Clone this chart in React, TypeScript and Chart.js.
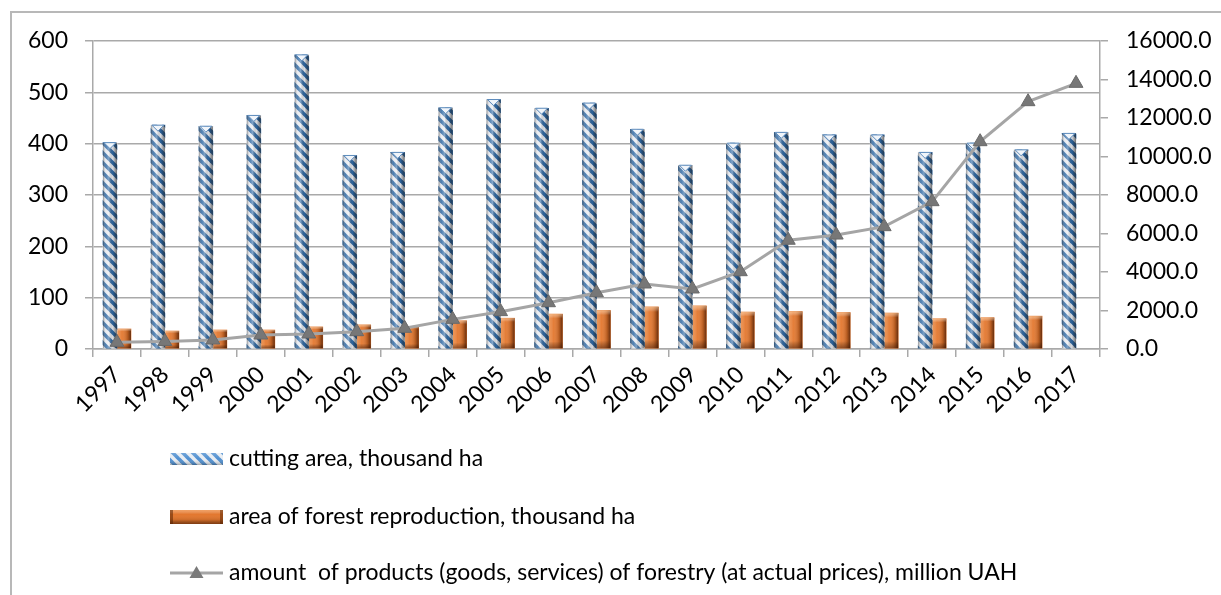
import React, { useEffect, useRef } from "react";
import { Chart, registerables } from "chart.js";

Chart.register(...registerables);

const years = ["1997", "1998", "1999", "2000", "2001", "2002", "2003", "2004", "2005", "2006", "2007", "2008", "2009", "2010", "2011", "2012", "2013", "2014", "2015", "2016", "2017"];
const cuttingArea = [402, 436, 434, 455, 573, 377, 383, 470, 486, 469, 479, 428, 358, 401, 422, 417, 417, 383, 401, 388, 420];
const reproductionArea = [39, 35, 37, 37, 43, 47, 44, 55, 60, 68, 75, 82, 84, 72, 73, 71, 70, 59, 61, 64, null];
const forestryProducts = [348, 390, 467, 727, 780, 900, 1075, 1540, 1940, 2405, 2925, 3377, 3117, 4016, 5650, 5920, 6354, 7653, 10770, 12848, 13800];

const leftTicks = { min: 0, max: 600, step: 100 };
const rightTicks = { min: 0, max: 16000, step: 2000 };

const legendLabels = [
  "cutting area, thousand ha",
  "area of forest reproduction, thousand ha",
  "amount  of products (goods, services) of forestry (at actual prices), million UAH",
];

const FONT = "Lato, 'Open Sans', sans-serif";
const GRID = "#a9a9a9";

function makeStripePattern(ctx: CanvasRenderingContext2D, blue: string, light: string, lw: number) {
  const s = 10;
  const c = document.createElement("canvas");
  c.width = s;
  c.height = s;
  const g = c.getContext("2d")!;
  g.fillStyle = light;
  g.fillRect(0, 0, s, s);
  g.strokeStyle = blue;
  g.lineWidth = lw;
  for (let k = -1; k <= 1; k++) {
    g.beginPath();
    g.moveTo(0 - 2, k * s - 2);
    g.lineTo(s + 2, k * s + s + 2);
    g.stroke();
  }
  return ctx.createPattern(c, "repeat")!;
}

function cylinderOverlay(ctx: CanvasRenderingContext2D, x0: number, x1: number, y0: number, y1: number) {
  const gr = ctx.createLinearGradient(x0, 0, x1, 0);
  gr.addColorStop(0, "rgba(60,60,60,0.55)");
  gr.addColorStop(0.2, "rgba(255,255,255,0.15)");
  gr.addColorStop(0.42, "rgba(255,255,255,0.4)");
  gr.addColorStop(0.7, "rgba(0,0,0,0.05)");
  gr.addColorStop(1, "rgba(30,30,30,0.6)");
  ctx.fillStyle = gr;
  ctx.fillRect(x0, y0, x1 - x0, y1 - y0);
}

function orangeOverlay(ctx: CanvasRenderingContext2D, x0: number, x1: number, y0: number, y1: number) {
  const gr = ctx.createLinearGradient(x0, 0, x1, 0);
  gr.addColorStop(0, "rgba(255,190,130,0.4)");
  gr.addColorStop(0.35, "rgba(255,255,255,0.05)");
  gr.addColorStop(0.75, "rgba(60,20,0,0.25)");
  gr.addColorStop(1, "rgba(50,15,0,0.7)");
  ctx.fillStyle = gr;
  ctx.fillRect(x0, y0, x1 - x0, y1 - y0);
  const gv = ctx.createLinearGradient(0, y0, 0, y1);
  gv.addColorStop(0, "rgba(255,215,170,0.55)");
  gv.addColorStop(0.12, "rgba(255,255,255,0)");
  gv.addColorStop(0.8, "rgba(0,0,0,0)");
  gv.addColorStop(1, "rgba(40,10,0,0.45)");
  ctx.fillStyle = gv;
  ctx.fillRect(x0, y0, x1 - x0, y1 - y0);
}

export default function App() {
  const ref = useRef<HTMLCanvasElement>(null);

  useEffect(() => {
    const canvas = ref.current!;
    const ctx = canvas.getContext("2d")!;
    const stripe = makeStripePattern(ctx, "#2f68a3", "#e6e9ee", 3.6);

    const barStyle = {
      id: "barStyle",
      beforeDraw(chart: any) {
        const c = chart.ctx;
        c.save();
        c.fillStyle = "#ffffff";
        c.fillRect(0, 0, chart.width, chart.height);
        c.strokeStyle = "#b8b8b8";
        c.lineWidth = 2;
        c.beginPath();
        c.moveTo(11, chart.height + 2);
        c.lineTo(11, 12);
        c.lineTo(chart.width + 2, 12);
        c.stroke();
        c.restore();
      },
      afterDatasetDraw(chart: any, args: any) {
        const c = chart.ctx;
        const meta = args.meta;
        c.save();
        const area = chart.chartArea;
        c.beginPath();
        c.rect(area.left, area.top - 10, area.right - area.left, area.bottom - area.top + 10);
        c.clip();
        if (args.index === 0) {
          meta.data.forEach((el: any) => {
            if (!isFinite(el.y) || !isFinite(el.base)) return;
            const x0 = el.x - el.width / 2;
            const x1 = el.x + el.width / 2;
            cylinderOverlay(c, x0, x1, el.y, el.base);
            c.fillStyle = "#f1f5fa";
            c.beginPath();
            c.moveTo(x0 + 1, el.y);
            c.lineTo(x1 - 1, el.y);
            c.lineTo(el.x, el.y + 6);
            c.closePath();
            c.fill();
            c.strokeStyle = "#5d8cbd";
            c.lineWidth = 1;
            c.stroke();
          });
        } else if (args.index === 1) {
          meta.data.forEach((el: any) => {
            if (!isFinite(el.y) || !isFinite(el.base) || Math.abs(el.base - el.y) < 1) return;
            const x0 = el.x - el.width / 2;
            const x1 = el.x + el.width / 2;
            orangeOverlay(c, x0, x1, el.y, el.base);
          });
        }
        c.restore();
      },
      afterDraw(chart: any) {
        const c = chart.ctx;
        c.save();
        const ix0 = 170, ix1 = 223, tx = 229;
        const ys = [459, 517, 573];
        c.font = `23px ${FONT}`;
        c.fillStyle = "#000000";
        c.textBaseline = "middle";
        c.textAlign = "left";
        legendLabels.forEach((t, i) => c.fillText(t, tx, ys[i]));
        // icon 1
        c.fillStyle = makeStripePattern(c, "#4f8fd0", "#e9edf2", 3.6);
        c.fillRect(ix0, ys[0] - 6, ix1 - ix0, 12);
        const g1 = c.createLinearGradient(0, ys[0] - 6, 0, ys[0] + 6);
        g1.addColorStop(0, "rgba(255,255,255,0.2)");
        g1.addColorStop(0.5, "rgba(255,255,255,0)");
        g1.addColorStop(1, "rgba(0,0,0,0.3)");
        c.fillStyle = g1;
        c.fillRect(ix0, ys[0] - 6, ix1 - ix0, 12);
        // icon 2
        c.fillStyle = "#e3772e";
        c.fillRect(ix0, ys[1] - 7, ix1 - ix0, 14);
        const gv = c.createLinearGradient(0, ys[1] - 7, 0, ys[1] + 7);
        gv.addColorStop(0, "rgba(255,200,150,0.5)");
        gv.addColorStop(0.3, "rgba(255,255,255,0)");
        gv.addColorStop(0.7, "rgba(0,0,0,0.1)");
        gv.addColorStop(1, "rgba(60,20,0,0.6)");
        c.fillStyle = gv;
        c.fillRect(ix0, ys[1] - 7, ix1 - ix0, 14);
        c.fillStyle = "rgba(80,30,0,0.5)";
        c.fillRect(ix0, ys[1] - 7, 3, 14);
        c.fillRect(ix1 - 3, ys[1] - 7, 3, 14);
        // icon 3
        c.strokeStyle = "#a5a5a5";
        c.lineWidth = 3;
        c.beginPath();
        c.moveTo(ix0, ys[2]);
        c.lineTo(ix1, ys[2]);
        c.stroke();
        const cx = (ix0 + ix1) / 2;
        c.fillStyle = "#7a7a7a";
        c.beginPath();
        c.moveTo(cx, ys[2] - 7);
        c.lineTo(cx + 7, ys[2] + 5);
        c.lineTo(cx - 7, ys[2] + 5);
        c.closePath();
        c.fill();
        c.restore();
      },
    };

    const chart = new Chart(ctx, {
      type: "bar",
      data: {
        labels: years,
        datasets: [
          {
            type: "bar",
            label: legendLabels[0],
            data: cuttingArea,
            backgroundColor: stripe,
            borderWidth: 0,
            barThickness: 14,
            yAxisID: "y",
            order: 1,
          } as any,
          {
            type: "bar",
            label: legendLabels[1],
            data: reproductionArea,
            backgroundColor: "#e3772e",
            borderWidth: 0,
            barThickness: 14,
            yAxisID: "y",
            order: 2,
          } as any,
          {
            type: "line",
            label: legendLabels[2],
            data: forestryProducts,
            borderColor: "#a5a5a5",
            borderWidth: 3,
            pointStyle: "triangle",
            pointRadius: 8,
            pointBackgroundColor: "#777777",
            pointBorderColor: "#6a6a6a",
            pointBorderWidth: 1,
            tension: 0,
            yAxisID: "y1",
            order: 0,
          } as any,
        ],
      },
      options: {
        responsive: false,
        animation: false,
        devicePixelRatio: 1,
        layout: { padding: { left: 12, top: 41, right: 0, bottom: 166 } },
        plugins: { legend: { display: false }, tooltip: { enabled: false } },
        scales: {
          x: {
            type: "category",
            offset: true,
            grid: { offset: true, drawOnChartArea: false, drawTicks: true, tickLength: 8, color: GRID, lineWidth: 1.5 },
            border: { color: GRID, width: 1.5 },
            ticks: { minRotation: 45, maxRotation: 45, autoSkip: false, padding: 4, color: "#000", font: { family: FONT, size: 23 } },
            afterFit(s: any) { s.height = 80; },
          },
          y: {
            position: "left",
            min: leftTicks.min,
            max: leftTicks.max,
            grid: { color: GRID, lineWidth: 1.5, tickLength: 8 },
            border: { color: GRID, width: 1.5 },
            ticks: { stepSize: leftTicks.step, padding: 17, color: "#000", font: { family: FONT, size: 23 } },
            afterFit(s: any) { s.width = 81; },
          },
          y1: {
            position: "right",
            min: rightTicks.min,
            max: rightTicks.max,
            grid: { drawOnChartArea: false, color: GRID, lineWidth: 1.5, tickLength: 8 },
            border: { color: GRID, width: 1.5 },
            ticks: { stepSize: rightTicks.step, padding: 18, color: "#000", font: { family: FONT, size: 23 }, callback: (v: any) => Number(v).toFixed(1) },
            afterFit(s: any) { s.width = 121; },
          },
        },
      },
      plugins: [barStyle],
    });
    return () => chart.destroy();
  }, []);

  return (
    <div style={{ position: "absolute", left: 0, top: 0, width: 1221, height: 595 }}>
      <canvas ref={ref} width={1221} height={595} style={{ width: 1221, height: 595, display: "block" }} />
    </div>
  );
}
